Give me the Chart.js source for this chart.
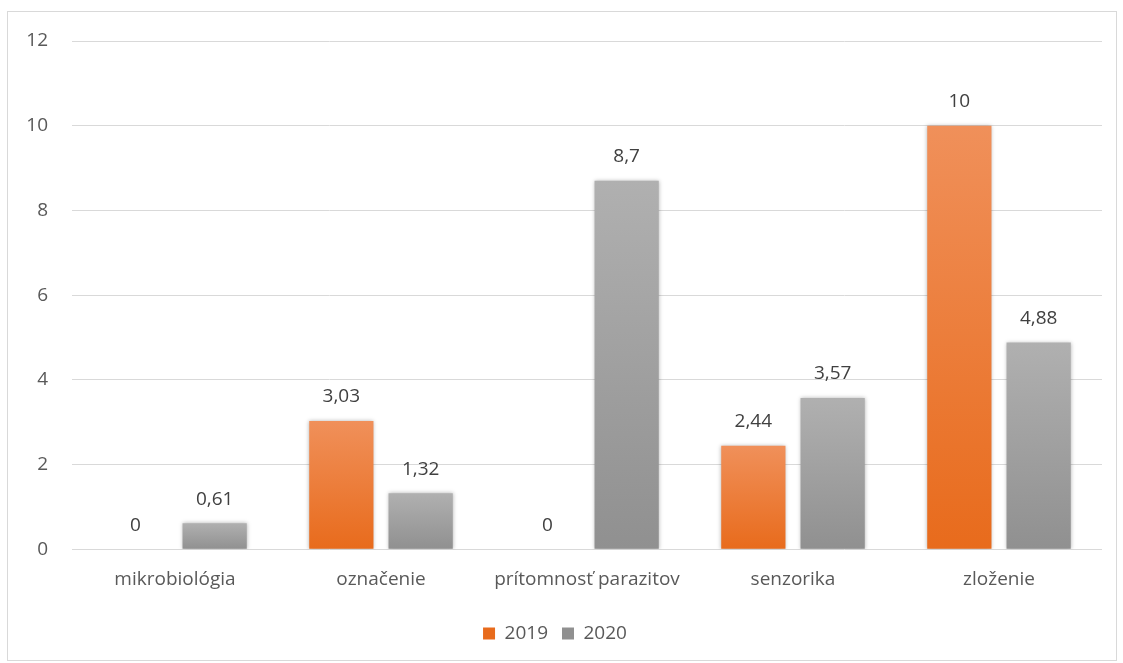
<!DOCTYPE html>
<html>
<head>
<meta charset="utf-8">
<script src="https://cdn.jsdelivr.net/npm/chart.js@4.4.0/dist/chart.umd.min.js"></script>
<style>
    html, body { margin: 0; padding: 0; background: #fff; }
    #wrap {
        position: absolute;
        left: 7px;
        top: 11px;
        width: 1110px;
        height: 650px;
        border: 1px solid #d9d9d9;
        box-sizing: border-box;
    }
</style>
</head>
<body>
<div id="wrap"><canvas id="chart"></canvas></div>
<script>
// Data
const categories = ['mikrobiológia', 'označenie', 'prítomnosť parazitov', 'senzorika', 'zloženie'];
const seriesNames = ['2019', '2020'];
const values2019 = [0, 3.03, 0, 2.44, 10];
const values2020 = [0.61, 1.32, 8.7, 3.57, 4.88];
const yTicks = [0, 2, 4, 6, 8, 10, 12];

const FONT = "'Open Sans', sans-serif";
const TEXT = '#595959';

// gradient spans each bar on its own, lighter at the top
function barGradient(top, bottom) {
    return function(context) {
        const chart = context.chart;
        const y = chart.scales.y;
        if (!chart.chartArea || !y || context.type !== 'data') return bottom;
        const y0 = y.getPixelForValue(context.raw);
        const y1 = y.getPixelForValue(0);
        if (!(y1 > y0)) return bottom;
        const g = chart.ctx.createLinearGradient(0, y0, 0, y1);
        g.addColorStop(0, top);
        g.addColorStop(1, bottom);
        return g;
    };
}

// Soft shadow under the bars
const barShadow = {
    id: 'barShadow',
    beforeDatasetDraw(chart) {
        const ctx = chart.ctx;
        ctx.save();
        ctx.shadowColor = 'rgba(0, 0, 0, 0.3)';
        ctx.shadowBlur = 4;
        ctx.shadowOffsetX = 0;
        ctx.shadowOffsetY = 0;
    },
    afterDatasetDraw(chart) {
        chart.ctx.restore();
    }
};

// Value labels above each bar, decimal comma
const valueLabels = {
    id: 'valueLabels',
    afterDatasetsDraw(chart) {
        const ctx = chart.ctx;
        ctx.save();
        ctx.font = '19px ' + FONT;
        ctx.fillStyle = '#404040';
        ctx.textAlign = 'center';
        ctx.textBaseline = 'middle';
        chart.data.datasets.forEach((ds, i) => {
            const meta = chart.getDatasetMeta(i);
            meta.data.forEach((bar, j) => {
                const text = String(ds.data[j]).replace('.', ',');
                ctx.fillText(text, bar.x, bar.y - 24);
            });
        });
        ctx.restore();
    }
};

new Chart(document.getElementById('chart'), {
    type: 'bar',
    data: {
        labels: categories,
        datasets: [
            {
                label: seriesNames[0],
                data: values2019,
                backgroundColor: barGradient('#f0905a', '#e86b1c'),
                borderWidth: 0,
                categoryPercentage: 0.77,
                barPercentage: 0.81
            },
            {
                label: seriesNames[1],
                data: values2020,
                backgroundColor: barGradient('#b0b0b0', '#909090'),
                borderWidth: 0,
                categoryPercentage: 0.77,
                barPercentage: 0.81
            }
        ]
    },
    plugins: [barShadow, valueLabels],
    options: {
        responsive: true,
        maintainAspectRatio: false,
        animation: false,
        layout: {
            padding: { top: 29, right: 14, bottom: 7, left: 0 }
        },
        plugins: {
            legend: {
                display: true,
                position: 'bottom',
                labels: {
                    boxWidth: 12,
                    boxHeight: 12,
                    padding: 14,
                    color: TEXT,
                    font: { family: FONT, size: 19 }
                }
            },
            tooltip: { enabled: false }
        },
        scales: {
            x: {
                grid: { display: false },
                border: { display: false },
                afterFit(scale) { scale.height += 8; },
                ticks: {
                    color: TEXT,
                    padding: 11,
                    font: { family: FONT, size: 19 }
                }
            },
            y: {
                min: 0,
                max: 12,
                afterFit(scale) { scale.width = 64; },
                afterBuildTicks(scale) {
                    scale.ticks = yTicks.map(v => ({ value: v }));
                },
                border: { display: false },
                grid: {
                    color: '#d9d9d9',
                    lineWidth: 1,
                    drawTicks: true,
                    tickLength: 24,
                    tickColor: 'rgba(0, 0, 0, 0)'
                },
                ticks: {
                    color: TEXT,
                    padding: 0,
                    font: { family: FONT, size: 19 }
                }
            }
        }
    }
});
</script>
</body>
</html>
